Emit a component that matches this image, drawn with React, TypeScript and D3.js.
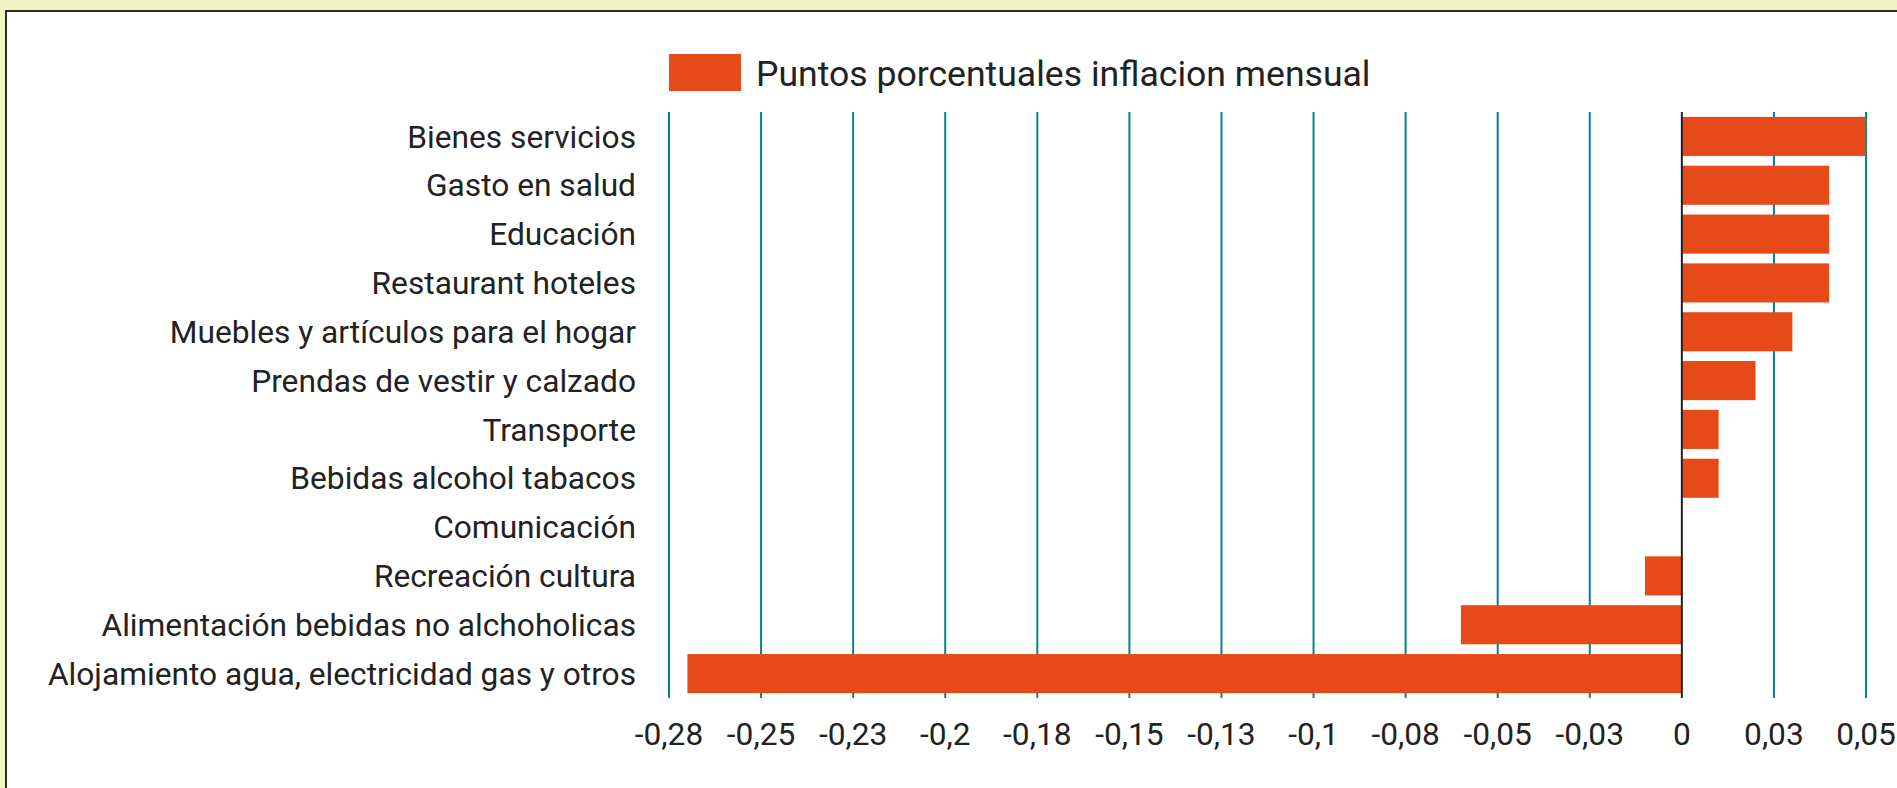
import React, { useEffect, useRef } from 'react';
import * as d3 from 'd3';

const categories = [
  'Bienes servicios',
  'Gasto en salud',
  'Educación',
  'Restaurant hoteles',
  'Muebles y artículos para el hogar',
  'Prendas de vestir y calzado',
  'Transporte',
  'Bebidas alcohol tabacos',
  'Comunicación',
  'Recreación cultura',
  'Alimentación bebidas no alchoholicas',
  'Alojamiento agua, electricidad gas y otros',
];

const values = [0.05, 0.04, 0.04, 0.04, 0.03, 0.02, 0.01, 0.01, 0, -0.01, -0.06, -0.27];

const tickValues = [-0.275, -0.25, -0.225, -0.2, -0.175, -0.15, -0.125, -0.1, -0.075, -0.05, -0.025, 0, 0.025, 0.05];
const tickLabels = ['-0,28', '-0,25', '-0,23', '-0,2', '-0,18', '-0,15', '-0,13', '-0,1', '-0,08', '-0,05', '-0,03', '0', '0,03', '0,05'];

const seriesName = 'Puntos porcentuales inflacion mensual';

const App = () => {
  const svgRef = useRef<SVGSVGElement>(null);

  useEffect(() => {
    document.body.style.margin = '0';
    const width = 1897;
    const height = 788;
    const svg = d3.select(svgRef.current);
    svg.selectAll('*').remove();
    svg.attr('width', width).attr('height', height);

    const font = 'Roboto, sans-serif';
    const barColor = '#e64a19';
    const gridColor = '#00838f';

    // page background + white panel
    svg.append('rect').attr('width', width).attr('height', height).attr('fill', '#f0f4c3');
    svg.append('rect').attr('x', 6).attr('y', 11).attr('width', width).attr('height', height)
      .attr('fill', '#fff').attr('stroke', '#2b2b2b').attr('stroke-width', 2);

    const x = d3.scaleLinear().domain([-0.275, 0.05]).range([669, 1866]);
    const y = d3.scaleBand().domain(categories).range([112, 698]).paddingInner(0.2).paddingOuter(0.1);

    // vertical grid lines
    svg.append('g').selectAll('line')
      .data(tickValues.filter(d => d !== 0))
      .enter()
      .append('line')
      .attr('x1', d => x(d)).attr('x2', d => x(d))
      .attr('y1', 112).attr('y2', 698)
      .attr('stroke', gridColor).attr('stroke-width', 2);

    // bars
    svg.append('g').selectAll('rect')
      .data(values)
      .enter()
      .append('rect')
      .attr('x', d => x(Math.min(0, d)))
      .attr('width', d => Math.abs(x(d) - x(0)))
      .attr('y', (d, i) => y(categories[i]) as number)
      .attr('height', y.bandwidth())
      .attr('fill', barColor);

    // zero line
    svg.append('line')
      .attr('x1', x(0)).attr('x2', x(0))
      .attr('y1', 112).attr('y2', 698)
      .attr('stroke', '#222').attr('stroke-width', 2);

    // category labels
    svg.append('g').selectAll('text')
      .data(categories)
      .enter()
      .append('text')
      .attr('x', 636)
      .attr('y', d => (y(d) as number) + y.bandwidth() / 2)
      .attr('dy', '0.35em')
      .attr('text-anchor', 'end')
      .attr('font-family', font)
      .attr('font-size', 31.7)
      .attr('fill', '#222')
      .text(d => d);

    // x tick labels
    svg.append('g').selectAll('text')
      .data(tickValues)
      .enter()
      .append('text')
      .attr('x', d => x(d))
      .attr('y', 745)
      .attr('text-anchor', 'middle')
      .attr('font-family', font)
      .attr('font-size', 31.7)
      .attr('fill', '#222')
      .text((d, i) => tickLabels[i]);

    // legend
    svg.append('rect').attr('x', 669).attr('y', 54).attr('width', 72).attr('height', 37).attr('fill', barColor);
    svg.append('text')
      .attr('x', 756).attr('y', 86)
      .attr('font-family', font)
      .attr('font-size', 35.6)
      .attr('fill', '#222')
      .text(seriesName);
  }, []);

  return <svg ref={svgRef} style={{ display: 'block' }}></svg>;
};

export default App;
